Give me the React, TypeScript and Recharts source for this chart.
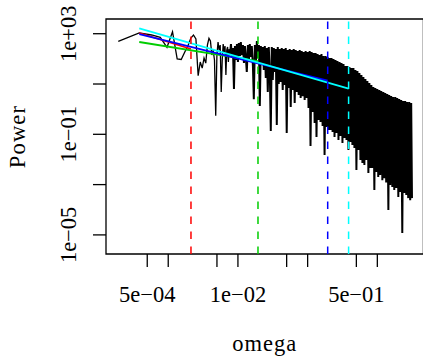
import { LineChart, Line, XAxis, YAxis, ReferenceLine, ReferenceArea, Label } from 'recharts';

// periodogram (omega, power)
const omegaBlack = [
  1.92e-4, 3.84e-4, 5.76e-4, 7.68e-4, 9.6e-4, 1.152e-3, 1.344e-3, 1.536e-3, 1.728e-3, 1.92e-3,
  2.112e-3, 2.304e-3, 2.496e-3, 2.688e-3, 2.88e-3, 3.072e-3, 3.264e-3, 3.456e-3, 3.648e-3, 3.84e-3,
  4.032e-3, 4.224e-3, 4.416e-3, 4.608e-3, 4.8e-3, 4.992e-3, 5.184e-3, 5.376e-3, 5.568e-3, 5.76e-3,
  5.952e-3, 6.144e-3, 6.336e-3, 6.528e-3, 6.72e-3, 6.912e-3, 7.104e-3, 7.296e-3, 7.488e-3, 7.68e-3,
  7.94e-3, 8.21e-3, 8.48e-3, 8.77e-3, 9.06e-3, 9.36e-3, 9.68e-3,
  0.0100, 0.0103, 0.0107, 0.0110, 0.0114, 0.0118, 0.0122, 0.0126, 0.0130, 0.0134,
  0.0139, 0.0144, 0.0148, 0.0153, 0.0158, 0.0164, 0.0169, 0.0175, 0.0181, 0.0187,
  0.0193, 0.0200, 0.0206, 0.0213, 0.0220, 0.0228, 0.0235, 0.0243, 0.0251, 0.0260,
  0.0268, 0.0277, 0.0287, 0.0296, 0.0306, 0.0316, 0.0327, 0.0338, 0.0349, 0.0361,
  0.0373, 0.0385, 0.0398, 0.0411, 0.0425, 0.0439, 0.0454, 0.0469, 0.0485, 0.0501,
  0.0518, 0.0535, 0.0553, 0.0572, 0.0591, 0.0611, 0.0631, 0.0652, 0.0674, 0.0696,
  0.0720, 0.0744, 0.0769, 0.0794, 0.0821, 0.0848, 0.0877, 0.0906, 0.0936, 0.0968,
  0.100, 0.103, 0.107, 0.110, 0.114, 0.118, 0.122, 0.126, 0.130, 0.134,
  0.139, 0.144, 0.148, 0.153, 0.158, 0.164, 0.169, 0.175, 0.181, 0.187,
  0.193, 0.200, 0.206, 0.213, 0.220, 0.228, 0.235, 0.243, 0.251, 0.260,
  0.268, 0.277, 0.287, 0.296, 0.306, 0.316, 0.327, 0.338, 0.349, 0.361,
  0.373, 0.385, 0.398, 0.411, 0.425, 0.439, 0.454, 0.469, 0.485, 0.501,
  0.518, 0.535, 0.553, 0.572, 0.591, 0.611, 0.631, 0.652, 0.674, 0.696,
  0.720, 0.744, 0.769, 0.794, 0.821, 0.848, 0.877, 0.906, 0.936, 0.968,
  1.00, 1.03, 1.07, 1.10, 1.14, 1.18, 1.22, 1.26, 1.30, 1.34,
  1.39, 1.44, 1.48, 1.53, 1.58, 1.64, 1.69, 1.75, 1.81, 1.87,
  1.93, 2.00, 2.06, 2.13, 2.20, 2.28, 2.35, 2.43, 2.51, 2.60,
  2.68, 2.77, 2.87, 2.96, 3.06, 3.14,
];
const powerBlack = [
  500, 1070, 890, 720, 288, 1200, 100, 95, 187, 333,
  674, 888, 615, 21.4, 75, 43, 108, 68, 355, 656,
  513, 142, 224, 90, 0.55, 141, 468, 224, 355, 4.8,
  90, 390, 187, 324, 22.8, 224, 296, 75, 247, 141,
  390, 108, 270, 6.3, 324, 90, 390,
  75, 427, 130, 468, 142, 356, 68.4, 324, 108, 30,
  356, 90, 390, 119, 324, 52, 2.5, 356, 75, 513,
  108, 356, 1.33, 324, 57, 296, 36, 324, 17.3, 270,
  4.8, 296, 25, 0.135, 296, 14.4, 270, 30, 247, 0.234,
  296, 10, 247, 12, 270, 5.8, 247, 9.1, 270, 0.113,
  225, 6.9, 247, 1.22, 225, 5.8, 247, 1.76, 225, 4.8,
  205, 3.66, 225, 2.8, 205, 3.3, 187, 2.31, 205, 2.8,
  187, 1.11, 205, 0.034, 187, 0.77, 171, 0.28, 171, 0.078,
  156, 0.37, 142, 0.31, 156, 0.214, 130, 0.015, 130, 0.195,
  119, 0.148, 108, 0.148, 108, 0.124, 98.7, 0.078, 90, 0.113,
  82, 0.059, 75, 0.0857, 68.4, 0.045, 62.4, 0.0713, 52, 0.059,
  52, 0.0238, 47.4, 0.05, 43.3, 0.0376, 43.3, 0.0286, 36, 0.0038,
  33, 0.0238, 27.4, 0.0095, 22.8, 0.0072, 19, 0.006, 15.8, 0.0095,
  13.2, 0.0029, 11, 0.0046, 9.1, 0.0046, 7.6, 6.1e-4, 6.9, 0.0032,
  6.3, 0.002, 5.8, 0.0024, 5.27, 0.0015, 4.8, 0.0018, 4.39, 0.0012,
  4.0, 9.8e-5, 3.66, 9.6e-4, 3.3, 8.0e-4, 3.04, 6.1e-4, 3.04, 7.3e-4,
  2.8, 3.2e-4, 2.53, 5.1e-4, 2.31, 1.19e-5, 2.11, 4.6e-4, 2.11, 3.9e-4,
  1.92, 2.9e-4, 1.92, 2.4e-4, 1.76, 2.9e-4,
];

// cut-off frequencies and the straight log-log fits that end there
const cutoffOmega = [0.00212, 0.0194, 0.194, 0.387];
const cutoffColors = ['#FF0000', '#00CD00', '#0000FF', '#00FFFF'];
const fitStartOmega = 3.84e-4;
const fitStartPower = [1066, 468, 973, 1640];
const fitEndPower = [247, 82, 13.5, 6.5];

const xTicks = [5e-4, 1e-3, 5e-3, 1e-2, 5e-2, 1e-1, 5e-1, 1];
const xTickLabels = ['5e\u221204', '', '', '1e\u221202', '', '', '5e\u221201', ''];
const yTicks = [1e-5, 1e-3, 1e-1, 1e1, 1e3];
const yTickLabels = ['1e\u221205', '', '1e\u221201', '', '1e+03'];

const xDomain = [1.28e-4, 4.58];
const yDomain = [1.74e-6, 3846];

const font = "'Liberation Serif', 'Times New Roman', serif";

const blackData = omegaBlack.map((o, i) => ({ omega: o, power: powerBlack[i] }));
const sparsePart = blackData.slice(0, 40);
const densePart = blackData.slice(39);
const fits = cutoffOmega.map((o, i) => [
  { omega: fitStartOmega, power: fitStartPower[i] },
  { omega: o, power: fitEndPower[i] },
]);

const XTick = (props: any) => {
  const { x, y, payload } = props;
  const label = xTickLabels[xTicks.indexOf(payload.value)];
  return (
    <text x={x} y={y + 35} textAnchor="middle" fontFamily={font} fontSize={22.5} fill="#000">
      {label}
    </text>
  );
};

const YTick = (props: any) => {
  const { x, y, payload } = props;
  const label = yTickLabels[yTicks.indexOf(payload.value)];
  return (
    <text x={x - 17} y={y} transform={`rotate(-90, ${x - 17}, ${y})`} textAnchor="middle" fontFamily={font} fontSize={22.5} fill="#000">
      {label}
    </text>
  );
};

export default function App() {
  return (
    <div style={{ position: 'absolute', left: 0, top: 0, width: 423, height: 356, overflow: 'hidden', background: '#fff' }}>
      <LineChart width={430} height={356} margin={{ top: 19, right: 6.6, bottom: 0, left: 0 }}>
        <XAxis
          dataKey="omega" type="number" scale="log" domain={xDomain} allowDataOverflow
          ticks={xTicks} interval={0} height={102} tickSize={13} tickMargin={0}
          axisLine={false} tickLine={{ stroke: '#000', strokeWidth: 1.3 }} tick={<XTick />}
        >
          <Label content={(p: any) => (
            <text x={p.viewBox.x + p.viewBox.width / 2} y={p.viewBox.y + 97} textAnchor="middle" fontFamily={font} fontSize={22.5} letterSpacing={1} fill="#000">omega</text>
          )} />
        </XAxis>
        <YAxis
          dataKey="power" type="number" scale="log" domain={yDomain} allowDataOverflow
          ticks={yTicks} interval={0} width={106} tickSize={13} tickMargin={0}
          axisLine={false} tickLine={{ stroke: '#000', strokeWidth: 1.3 }} tick={<YTick />}
        >
          <Label content={(p: any) => {
            const cy = p.viewBox.y + p.viewBox.height / 2;
            return (
              <text x={24.5} y={cy} transform={`rotate(-90, 24.5, ${cy})`} textAnchor="middle" fontFamily={font} fontSize={22.5} letterSpacing={1.2} fill="#000">Power</text>
            );
          }} />
        </YAxis>
        <ReferenceArea x1={xDomain[0]} x2={xDomain[1]} y1={yDomain[0]} y2={yDomain[1]} fill="none" fillOpacity={0} stroke="#000" strokeWidth={1.3} ifOverflow="visible" />
        <Line data={sparsePart} dataKey="power" stroke="#000" strokeWidth={1.3} dot={false} isAnimationActive={false} />
        <Line data={densePart} dataKey="power" stroke="#000" strokeWidth={2} dot={false} isAnimationActive={false} />
        {fits.map((d, i) => (
          <Line key={i} data={d} dataKey="power" stroke={cutoffColors[i]} strokeWidth={1.8} dot={false} isAnimationActive={false} />
        ))}
        {cutoffOmega.map((o, i) => (
          <ReferenceLine key={i} x={o} stroke={cutoffColors[i]} strokeWidth={1.5} strokeDasharray="7.5 7.5" />
        ))}
      </LineChart>
    </div>
  );
}
